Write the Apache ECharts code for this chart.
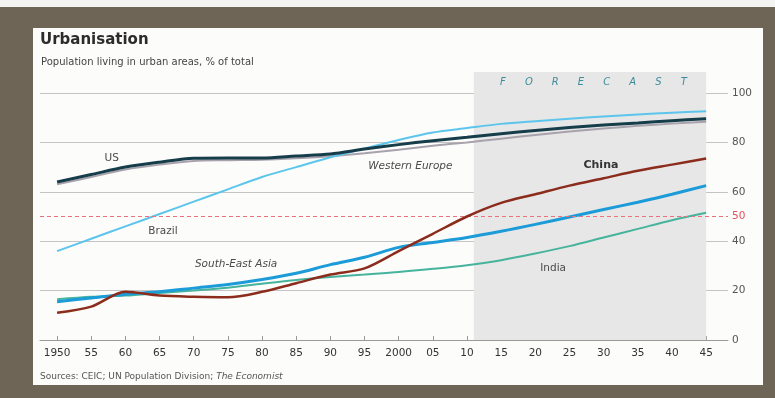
<!DOCTYPE html>
<html>
<head>
<meta charset="utf-8">
<script src="https://cdn.jsdelivr.net/npm/echarts@6/dist/echarts.min.js"></script>
<style>
html,body{margin:0;padding:0;width:775px;height:398px;overflow:hidden;background:#6f6556;}
#strip{position:absolute;left:0;top:0;width:775px;height:7px;background:#f4f4f2;}
#panel{position:absolute;left:33px;top:28px;width:730px;height:357px;background:#fcfcfb;}
#chart{position:absolute;left:0;top:0;width:775px;height:398px;}
</style>
</head>
<body>
<div id="strip"></div>
<div id="panel"></div>
<div id="chart"></div>
<script>
const years = [1950,1955,1960,1965,1970,1975,1980,1985,1990,1995,2000,2005,2010,2015,2020,2025,2030,2035,2040,2045];
const us          = [64,67,70,72,73.6,73.7,73.7,74.5,75.3,77.3,79.1,80.7,82.1,83.5,84.8,86,87,87.9,88.8,89.6];
const westEurope  = [63,66,69,71,72.5,72.8,73,73.6,74.4,75.6,77,78.6,80,81.5,83,84.4,85.6,86.7,87.6,88.4];
const brazil      = [36,41,46,51,56,61,66,70,74,77.5,81,84,85.8,87.5,88.6,89.6,90.5,91.3,92,92.6];
const china       = [11,13.5,19.5,18,17.5,17.3,19.5,23,26.5,29,36,43,50,55.5,59,62.5,65.5,68.5,71,73.5];
const seAsia      = [15.5,17,18.5,19.5,21,22.5,24.5,27,30.5,33.5,37.5,39.5,41.5,44,46.8,49.8,52.8,55.8,59,62.5];
const india       = [16.5,17.5,18,19,20,21.2,22.8,24.3,25.5,26.5,27.5,28.8,30.3,32.3,35,38,41.5,45,48.5,51.5];
const xTickValues = [1950,1955,1960,1965,1970,1975,1980,1985,1990,1995,2000,2005,2010,2015,2020,2025,2030,2035,2040,2045];
const forecastStart = 2011;
const forecastEnd = 2045;
const halfLine = 50;

const pair = arr => years.map((y,i)=>[y,arr[i]]);
const font = "'DejaVu Sans', sans-serif";
function lbl(text, coord, style){
  return {coord: coord, symbol:'circle', symbolSize:1, itemStyle:{color:'rgba(0,0,0,0)'},
    label:Object.assign({show:true, formatter:text, position:'inside', fontFamily:font, fontSize:10.5, color:'#4a4a4a'}, style||{})};
}

const chart = echarts.init(document.getElementById('chart'));
chart.setOption({
  animation:false,
  backgroundColor:'transparent',
  title:[
    {text:'Urbanisation', left:40, top:33, padding:0, textStyle:{fontFamily:font, fontSize:15, fontWeight:'bold', color:'#2c2c2c'}},
    {text:'Population living in urban areas, % of total', left:41, top:57, padding:0, textStyle:{fontFamily:font, fontSize:10, fontWeight:'normal', color:'#454545'}},
    {text:'Sources: CEIC; UN Population Division; {i|The Economist}', left:40, top:372, padding:0,
     textStyle:{fontFamily:font, fontSize:9, fontWeight:'normal', color:'#555', rich:{i:{fontFamily:font,fontSize:9,fontStyle:'italic',color:'#555'}}}}
  ],
  grid:{left:40, right:47, top:72, bottom:58},
  xAxis:{
    type:'value', min:1947.5, max:2048.2,
    axisLine:{show:true, lineStyle:{color:'#9a9a9a', width:1}},
    axisTick:{show:true, inside:true, length:4, customValues:xTickValues, lineStyle:{color:'#9a9a9a'}},
    axisLabel:{customValues:xTickValues, margin:8, fontFamily:font, fontSize:10.5, color:'#333',
      formatter:v=> (v===1950||v===2000) ? String(v) : String(v).slice(2)},
    splitLine:{show:false}
  },
  yAxis:{
    type:'value', position:'right', min:0, max:108.5, interval:20,
    axisLine:{show:false}, axisTick:{show:false},
    axisLabel:{margin:4, fontFamily:font, fontSize:10.5, color:'#555', showMaxLabel:false},
    splitLine:{show:true, showMaxLine:false, lineStyle:{color:'#c4c4c4', width:1}}
  },
  series:[
    {type:'line', name:'helper', data:[], silent:true,
      markArea:{silent:true, itemStyle:{color:'#e7e7e7'}, data:[[{xAxis:forecastStart},{xAxis:forecastEnd}]]},
      markLine:{silent:true, symbol:'none', lineStyle:{color:'#e8737d', type:[4,3], width:1},
        label:{show:true, position:'end', distance:4, formatter:'50', fontFamily:font, fontSize:10.5, color:'#e2515f'},
        data:[{yAxis:halfLine}]},
      markPoint:{silent:true, data:[lbl('F      O      R      E      C      A      S      T',[2028.5,104.3],{fontStyle:'italic', color:'#3c8c9c', fontSize:10})]}
    },
    {type:'line', name:'Western Europe', data:pair(westEurope), smooth:0.3, symbol:'none', lineStyle:{color:'#a8a2ad', width:2}, z:3,
      markPoint:{silent:true, data:[lbl('Western Europe',[2001.7,70.4],{fontStyle:'italic'})]}},
    {type:'line', name:'Brazil', data:pair(brazil), smooth:0.3, symbol:'none', lineStyle:{color:'#5cc5ec', width:2}, z:4,
      markPoint:{silent:true, data:[lbl('Brazil',[1965.5,44.1])]}},
    {type:'line', name:'US', data:pair(us), smooth:0.3, symbol:'none', lineStyle:{color:'#163d4a', width:3}, z:5,
      markPoint:{silent:true, data:[lbl('US',[1958,73.7])]}},
    {type:'line', name:'India', data:pair(india), smooth:0.3, symbol:'none', lineStyle:{color:'#46b49d', width:2}, z:3,
      markPoint:{silent:true, data:[lbl('India',[2022.6,29.1])]}},
    {type:'line', name:'China', data:pair(china), smooth:0.3, symbol:'none', lineStyle:{color:'#8b2c1c', width:2.5}, z:5,
      markPoint:{silent:true, data:[lbl('China',[2029.6,70.9],{fontWeight:'bold', color:'#333', fontSize:11})]}},
    {type:'line', name:'South-East Asia', data:pair(seAsia), smooth:0.3, symbol:'none', lineStyle:{color:'#1b9bd8', width:3}, z:4,
      markPoint:{silent:true, data:[lbl('South-East Asia',[1976.2,30.8],{fontStyle:'italic'})]}}
  ]
});
</script>
</body>
</html>
